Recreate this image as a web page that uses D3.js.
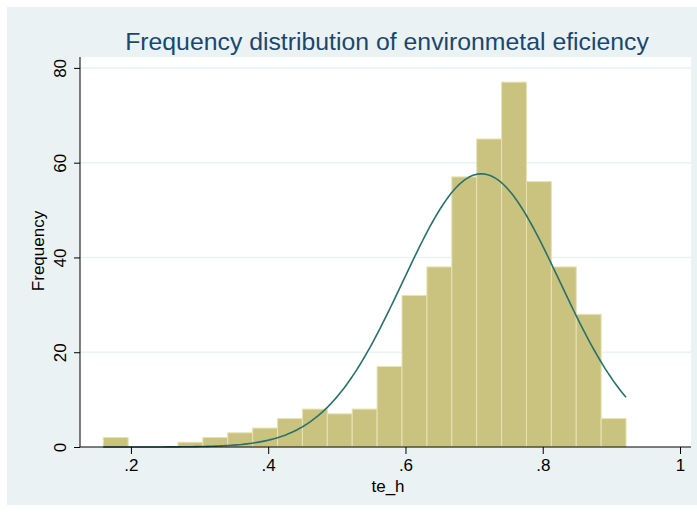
<!DOCTYPE html>
<html>
<head>
<meta charset="utf-8">
<script src="https://cdn.jsdelivr.net/npm/d3@7"></script>
<style>
  body { margin: 0; background: #fff; }
  text { font-family: 'Liberation Sans', Arial, sans-serif; }
</style>
</head>
<body>
<div id="chart"></div>
<script>
// histogram bins of te_h (21 equal bins)
const binStart = 0.1597;
const binWidth = 0.03627;
const counts = [2, 0, 0, 1, 2, 3, 4, 6, 8, 7, 8, 17, 32, 38, 57, 65, 77, 56, 38, 28, 6];
const yTicks = [0, 20, 40, 60, 80];
const xTicks = [0.2, 0.4, 0.6, 0.8, 1];
// normal overlay
const normMean = 0.7105;
const normSd = 0.1142;

const width = 697;
const height = 514;
const plot = { left: 80, right: 691, top: 57, bottom: 447 };

const svg = d3.select('#chart')
  .append('svg')
    .attr('width', width)
    .attr('height', height);

svg.append('rect')
  .attr('x', 7)
  .attr('y', 7)
  .attr('width', width - 7)
  .attr('height', 498)
  .attr('fill', '#eaf2f3');

svg.append('rect')
  .attr('x', plot.left)
  .attr('y', plot.top)
  .attr('width', plot.right - plot.left)
  .attr('height', plot.bottom - plot.top)
  .attr('fill', '#fff');

const x = d3.scaleLinear()
  .domain([0.1258, 1.016])
  .range([plot.left, plot.right]);
const y = d3.scaleLinear()
  .domain([0, 82.3])
  .range([plot.bottom, plot.top]);

// grid
svg.append('g')
  .selectAll('line')
  .data(yTicks.filter(d => d > 0))
  .join('line')
    .attr('x1', plot.left)
    .attr('x2', plot.right)
    .attr('y1', d => y(d))
    .attr('y2', d => y(d))
    .attr('stroke', '#eaf2f3')
    .attr('stroke-width', 1.5);

const bins = counts.map((c, i) => ({ x0: binStart + i * binWidth, x1: binStart + (i + 1) * binWidth, c }));

svg.append('g')
  .selectAll('rect')
  .data(bins.filter(d => d.c > 0))
  .join('rect')
    .attr('x', d => x(d.x0))
    .attr('y', d => y(d.c))
    .attr('width', d => x(d.x1) - x(d.x0))
    .attr('height', d => y(0) - y(d.c))
    .attr('fill', '#cac380')
    .attr('stroke', '#e7e2b4')
    .attr('stroke-width', 1);

// normal density scaled to frequency
const n = d3.sum(counts);
const xMin = binStart;
const xMax = binStart + counts.length * binWidth;
const curve = d3.range(0, 201).map(i => {
  const v = xMin + (xMax - xMin) * i / 200;
  const z = (v - normMean) / normSd;
  return [v, n * binWidth * Math.exp(-0.5 * z * z) / (normSd * Math.sqrt(2 * Math.PI))];
});

svg.append('path')
  .datum(curve)
  .attr('fill', 'none')
  .attr('stroke', '#2a7169')
  .attr('stroke-width', 1.6)
  .attr('d', d3.line().x(d => x(d[0])).y(d => y(d[1])));

// axes
const xAxis = svg.append('g')
  .attr('transform', `translate(0,${plot.bottom})`)
  .call(d3.axisBottom(x).tickValues(xTicks).tickSize(7).tickPadding(5)
    .tickFormat(d => d === 1 ? '1' : d3.format('.1f')(d).replace(/^0/, '')));
xAxis.select('.domain').attr('d', `M${plot.left},0H${plot.right}`).attr('stroke', '#000');
xAxis.selectAll('text').attr('font-size', 17).attr('fill', '#000');

const yAxis = svg.append('g')
  .attr('transform', `translate(${plot.left},0)`)
  .call(d3.axisLeft(y).tickValues(yTicks).tickSize(6).tickPadding(0));
yAxis.select('.domain').attr('d', `M0,${plot.top}V${plot.bottom}`).attr('stroke', '#000');
yAxis.selectAll('text')
  .attr('font-size', 17)
  .attr('fill', '#000')
  .attr('text-anchor', 'middle')
  .attr('dy', null)
  .attr('x', null)
  .attr('transform', 'translate(-14,0) rotate(-90)')
  .attr('y', 0);

svg.append('text')
  .attr('x', 387)
  .attr('y', 50)
  .attr('text-anchor', 'middle')
  .attr('font-size', 24.8)
  .attr('fill', '#1a476f')
  .text('Frequency distribution of environmetal eficiency');

svg.append('text')
  .attr('x', 388)
  .attr('y', 492)
  .attr('text-anchor', 'middle')
  .attr('font-size', 17)
  .text('te_h');

svg.append('text')
  .attr('transform', `translate(44,251) rotate(-90)`)
  .attr('text-anchor', 'middle')
  .attr('font-size', 17)
  .text('Frequency');
</script>
</body>
</html>
